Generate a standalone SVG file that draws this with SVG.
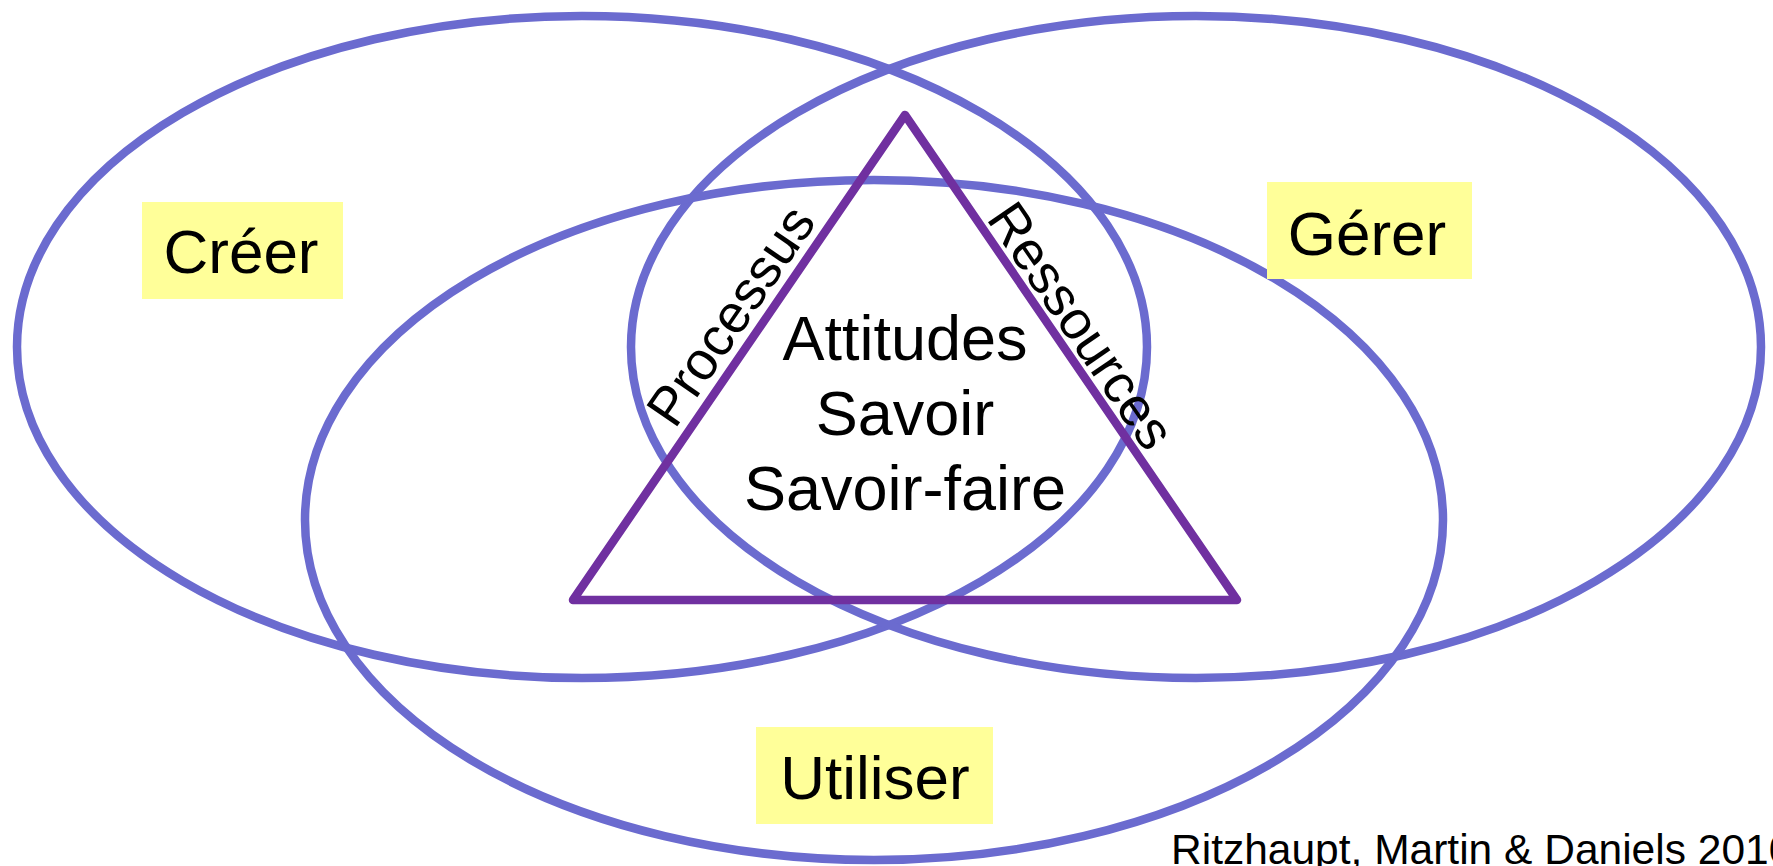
<svg xmlns="http://www.w3.org/2000/svg" width="1773" height="866" viewBox="0 0 1773 866">
  <style>
    .ell { fill: none; stroke: #6B6BCF; stroke-width: 8.5; }
    .tri { fill: none; stroke: #7030A0; stroke-width: 8.5; stroke-linejoin: round; stroke-linecap: round; }
    .box { fill: #FFFF99; }
    .lbl { font-family: "Liberation Sans", Arial, sans-serif; font-size: 62px; fill: #000; }
    .mid { font-family: "Liberation Sans", Arial, sans-serif; font-size: 63px; fill: #000; }
    .side { font-family: "Liberation Sans", Arial, sans-serif; font-size: 54px; fill: #000; }
    .cite { font-family: "Liberation Sans", Arial, sans-serif; font-size: 42.5px; fill: #000; }
  </style>
  <rect width="1773" height="866" fill="#FFFFFF"/>
  <g id="ellipses">
    <ellipse id="creer-ellipse" class="ell" cx="582" cy="347" rx="565" ry="331"/>
    <ellipse id="gerer-ellipse" class="ell" cx="1196" cy="347" rx="565" ry="331"/>
    <ellipse id="utiliser-ellipse" class="ell" cx="874" cy="520" rx="569" ry="340"/>
  </g>
  <g id="triangle">
    <polygon class="tri" points="905,115 1237,600 573,600"/>
    <text class="side" text-anchor="middle" transform="translate(746,326) rotate(-55.6)">Processus</text>
    <text class="side" text-anchor="middle" transform="translate(1066,336) rotate(55.6)">Ressources</text>
  </g>
  <g id="center">
    <text class="mid" text-anchor="middle" x="905" y="360">Attitudes</text>
    <text class="mid" text-anchor="middle" x="905" y="435">Savoir</text>
    <text class="mid" text-anchor="middle" x="905" y="510">Savoir-faire</text>
  </g>
  <g id="creer">
    <rect class="box" x="142" y="202" width="201" height="97"/>
    <text class="lbl" text-anchor="middle" x="241" y="273">Créer</text>
  </g>
  <g id="gerer">
    <rect class="box" x="1267" y="182" width="205" height="97"/>
    <text class="lbl" text-anchor="middle" x="1367" y="255">Gérer</text>
  </g>
  <g id="utiliser">
    <rect class="box" x="756" y="727" width="237" height="97"/>
    <text class="lbl" text-anchor="middle" x="875" y="799">Utiliser</text>
  </g>
  <g id="citation">
    <text class="cite" x="1171" y="864">Ritzhaupt, Martin &amp; Daniels 2010</text>
  </g>
</svg>
